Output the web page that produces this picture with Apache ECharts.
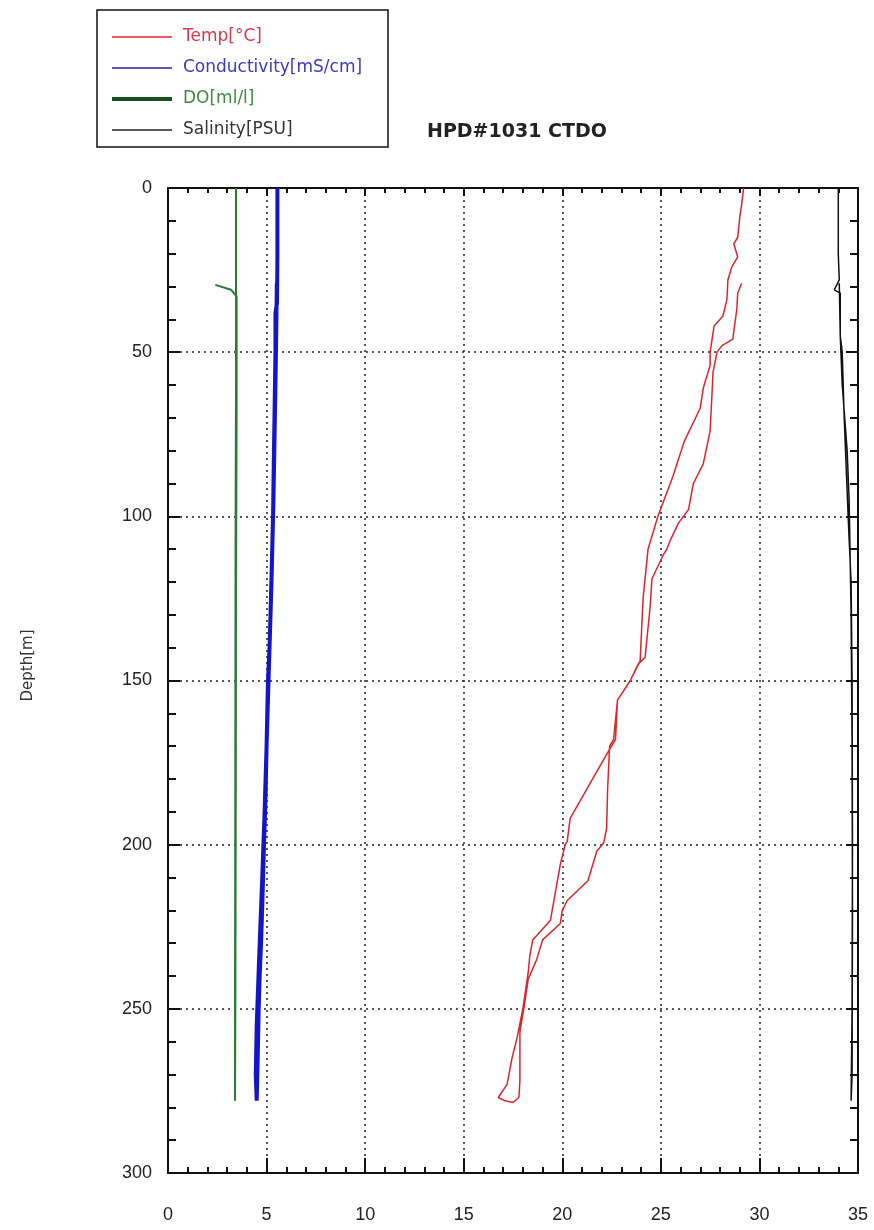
<!DOCTYPE html>
<html>
<head>
<meta charset="utf-8">
<script src="https://cdn.jsdelivr.net/npm/echarts@6/dist/echarts.min.js"></script>
<style>
  html, body { margin: 0; padding: 0; background: #fff; }
  #ctdChart { width: 874px; height: 1230px; }
</style>
</head>
<body>
<div id="ctdChart"></div>
<script>
  // [value, depth] pairs (down cast then up cast)
  var tempData = [
    [29.2, 0], [29.1, 5], [29.0, 9], [28.9, 15], [28.7, 17], [28.9, 21], [28.6, 24], [28.4, 28],
    [28.35, 34], [28.15, 39], [27.7, 42], [27.5, 50], [27.5, 54], [27.15, 61], [27.0, 67],
    [26.2, 77], [25.6, 88], [25.1, 96], [24.85, 100], [24.6, 105], [24.35, 110], [24.1, 125],
    [24.05, 131], [23.95, 144], [23.45, 150], [22.8, 156], [22.7, 168], [22.3, 172], [21.25, 183],
    [20.4, 192], [20.25, 199], [20.15, 200], [19.9, 206], [19.4, 223], [18.5, 229], [18.35, 234],
    [18.27, 239], [18.0, 250], [17.7, 259], [17.45, 265], [17.2, 273], [16.75, 277], [17.1, 278],
    [17.5, 278.5],
    [17.8, 277], [17.85, 272], [17.85, 257], [18.1, 248], [18.27, 241], [18.7, 235], [19.0, 229],
    [19.9, 224], [20.0, 220], [20.25, 217], [21.3, 211], [21.75, 202], [22.1, 199.5], [22.25, 195],
    [22.3, 183], [22.4, 170], [22.6, 168], [22.8, 156], [23.45, 150], [23.85, 145], [24.2, 143],
    [24.45, 128], [24.55, 119], [25.1, 112], [25.3, 110], [25.5, 107], [25.9, 102], [26.4, 98],
    [26.65, 90], [27.15, 84], [27.5, 74], [27.6, 62], [27.65, 56], [27.85, 50], [28.1, 48],
    [28.65, 46], [28.85, 37], [28.9, 32], [29.1, 29]
  ]
  var condData = [
    [5.55, 0], [5.55, 20], [5.53, 35], [5.45, 38], [5.45, 50], [5.4, 70], [5.35, 90], [5.33, 100],
    [5.25, 120], [5.15, 140], [5.07, 150], [5.0, 170], [4.95, 185], [4.87, 200], [4.8, 215],
    [4.72, 230], [4.65, 240], [4.6, 250], [4.55, 265], [4.5, 278],
    [4.45, 270], [4.5, 255], [4.62, 235], [4.78, 210], [4.9, 190], [5.05, 160], [5.2, 130],
    [5.35, 95], [5.45, 60], [5.5, 40], [5.52, 29]
  ]
  var doData = [
    [3.45, 0], [3.45, 30], [3.45, 60], [3.43, 100], [3.42, 150], [3.41, 200], [3.4, 250], [3.4, 278],
    [3.42, 240], [3.44, 180], [3.45, 120], [3.48, 70], [3.48, 33], [3.2, 31], [2.4, 29.5]
  ]
  var salData = [
    [34.0, 0], [34.0, 20], [34.05, 28], [33.8, 31], [34.1, 32], [34.1, 45], [34.2, 50], [34.3, 70],
    [34.4, 85], [34.5, 100], [34.55, 107], [34.65, 120], [34.7, 150], [34.72, 200], [34.7, 250],
    [34.65, 278],
    [34.7, 270], [34.72, 220], [34.7, 170], [34.65, 130], [34.6, 112], [34.55, 95], [34.45, 80],
    [34.2, 60], [34.1, 45], [34.05, 29]
  ]
  var seriesNames = ['Temp[°C]', 'Conductivity[mS/cm]', 'DO[ml/l]', 'Salinity[PSU]']
  var seriesColors = ['#d9262b', '#1414c8', '#2a7a34', '#111111']
  var legendTextColors = ['#d23a4c', '#3a3ac4', '#3e8a3e', '#333333']
  var legendLineColors = ['#d9262b', '#2020a0', '#17531f', '#222222']
  var legendLineWidths = [1.5, 1.5, 4, 1.5]
  var lineWidths = [1.5, 4, 2, 1.5]

  var chart = echarts.init(document.getElementById('ctdChart'))
  var dataSets = [tempData, condData, doData, salData]

  var gridLine = { show: true, lineStyle: { color: '#222', width: 1.5, type: [2, 4] } }
  var axisFont = { fontFamily: 'Liberation Sans', fontSize: 18, color: '#222' }

  var options = {
    backgroundColor: '#fff',
    animation: false,
    title: {
      text: 'HPD#1031 CTDO',
      left: 422,
      top: 118,
      textStyle: { fontFamily: 'DejaVu Sans', fontWeight: 'bold', fontSize: 19, color: '#222' }
    },
    graphic: [{
      type: 'rect',
      shape: { x: 97, y: 10, width: 291, height: 137 },
      style: { fill: 'none', stroke: '#111', lineWidth: 1.5 }
    }],
    legend: {
      orient: 'vertical',
      left: 105,
      top: 22,
      itemWidth: 60,
      itemHeight: 14,
      itemGap: 11,
      textStyle: { fontFamily: 'DejaVu Sans', fontSize: 17, lineHeight: 20, padding: [0, 0, 0, 6] },
      data: seriesNames.map(function(n, i) {
        return {
          name: n,
          textStyle: { color: legendTextColors[i] },
          itemStyle: { opacity: 0 },
          lineStyle: { color: legendLineColors[i], width: legendLineWidths[i] }
        }
      })
    },
    grid: { left: 168, top: 188, width: 690, height: 985, outerBoundsMode: 'none', containLabel: false },
    xAxis: [{
      type: 'value',
      min: 0,
      max: 35,
      interval: 5,
      position: 'bottom',
      axisLine: { show: true, onZero: false, lineStyle: { color: '#111', width: 2 } },
      axisTick: { show: true, inside: true, length: 15, lineStyle: { color: '#111', width: 2 } },
      minorTick: { show: true, splitNumber: 5, length: 6, lineStyle: { color: '#111', width: 2 } },
      axisLabel: Object.assign({ margin: 33 }, axisFont),
      splitLine: gridLine
    }, {
      type: 'value',
      min: 0,
      max: 35,
      interval: 5,
      position: 'top',
      axisLine: { show: true, onZero: false, lineStyle: { color: '#111', width: 2 } },
      axisTick: { show: true, inside: true, length: 8, lineStyle: { color: '#111', width: 2 } },
      minorTick: { show: true, splitNumber: 5, length: 5, lineStyle: { color: '#111', width: 2 } },
      axisLabel: { show: false },
      splitLine: { show: false }
    }],
    yAxis: [{
      type: 'value',
      inverse: true,
      min: 0,
      max: 300,
      interval: 50,
      position: 'left',
      name: 'Depth[m]',
      nameLocation: 'middle',
      nameRotate: 90,
      nameGap: 132,
      nameTextStyle: { fontFamily: 'DejaVu Sans', fontSize: 15, color: '#333', padding: [0, 0, 0, 30] },
      axisLine: { show: true, onZero: false, lineStyle: { color: '#111', width: 2 } },
      axisTick: { show: true, inside: true, length: 12, lineStyle: { color: '#111', width: 2 } },
      minorTick: { show: true, splitNumber: 5, length: 8, lineStyle: { color: '#111', width: 2 } },
      axisLabel: Object.assign({ margin: 16 }, axisFont),
      splitLine: gridLine
    }, {
      type: 'value',
      inverse: true,
      min: 0,
      max: 300,
      interval: 50,
      position: 'right',
      axisLine: { show: true, onZero: false, lineStyle: { color: '#111', width: 2 } },
      axisTick: { show: true, inside: true, length: 12, lineStyle: { color: '#111', width: 2 } },
      minorTick: { show: true, splitNumber: 5, length: 8, lineStyle: { color: '#111', width: 2 } },
      axisLabel: { show: false },
      splitLine: { show: false }
    }],
    series: seriesNames.map(function(n, i) {
      return {
        name: n,
        type: 'line',
        xAxisIndex: 0,
        yAxisIndex: 0,
        data: dataSets[i],
        symbol: 'none', // 不显示节点
        smooth: false,
        itemStyle: { color: seriesColors[i] },
        lineStyle: { color: seriesColors[i], width: lineWidths[i] },
        z: 3 + i
      }
    })
  }

  chart.setOption(options)
</script>
</body>
</html>
